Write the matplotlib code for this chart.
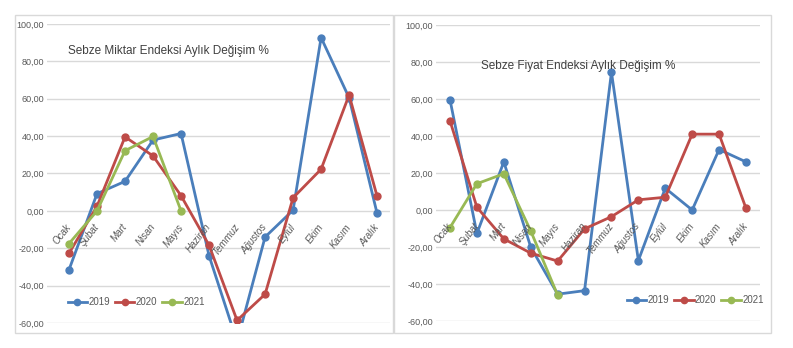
import matplotlib.pyplot as plt
from matplotlib.patches import Rectangle

plt.rcParams['font.family'] = ['Liberation Sans', 'DejaVu Sans']

months = ["Ocak", "Şubat", "Mart", "Nisan", "Mayıs", "Haziran", "Temmuz",
          "Ağustos", "Eylül", "Ekim", "Kasım", "Aralık"]
years = ["2019", "2020", "2021"]
yticks = [-60, -40, -20, 0, 20, 40, 60, 80, 100]

# Sebze Miktar Endeksi (left chart)
miktar_2019 = [-31.5, 9.2, 15.8, 37.9, 41.4, -24.0, -70.0, -14.0, 0.4, 92.7, 60.5, -1.4]
miktar_2020 = [-22.7, 2.5, 39.6, 29.4, 8.1, -18.4, -58.6, -44.6, 7.0, 22.3, 62.0, 7.8]
miktar_2021 = [-17.5, 0.0, 32.2, 39.8, 0.0]

# Sebze Fiyat Endeksi (right chart)
fiyat_2019 = [59.6, -12.7, 26.0, -20.0, -45.5, -43.6, 74.5, -27.3, 11.8, 0.0, 32.7, 26.0]
fiyat_2020 = [48.2, 1.5, -15.6, -23.3, -27.6, -10.2, -3.6, 5.5, 6.9, 41.0, 41.0, 0.9]
fiyat_2021 = [-9.5, 14.2, 19.6, -11.3, -46.0]

colors = ["#4A7EBB", "#BE4B48", "#98B954"]
W, H = 793, 348


def px_axes(fig, x0, x1, ytop, ybot):
    return fig.add_axes([x0 / W, 1 - ybot / H, (x1 - x0) / W, (ybot - ytop) / H])


def draw(ax, series, title, title_xy, legend_anchor, xlim):
    for vals, c, lab in zip(series, colors, years):
        ax.plot(range(len(vals)), vals, color=c, lw=2, marker='o', ms=5,
                label=lab, clip_on=True)
    ax.set_ylim(-60, 100)
    ax.set_xlim(*xlim)
    ax.set_yticks(yticks)
    ax.set_yticklabels([f"{v:.2f}".replace('.', ',') for v in yticks],
                       fontsize=6.5, color='#595959')
    ax.set_xticks([])
    ax.grid(axis='y', color='#D9D9D9', lw=1)
    ax.set_axisbelow(True)
    ax.tick_params(axis='y', length=0, pad=2)
    for s in ax.spines.values():
        s.set_visible(False)
    for i, m in enumerate(months):
        ax.annotate(m, (i, 0), xytext=(3, -8), textcoords='offset points',
                    rotation=52, ha='right', va='top', fontsize=7,
                    color='#595959', style='italic', annotation_clip=False)
    ax.text(title_xy[0], title_xy[1], title, transform=ax.transAxes,
            fontsize=8.5, color='#404040')
    ax.legend(loc='center', bbox_to_anchor=legend_anchor, ncol=3, frameon=False,
              fontsize=7, handlelength=2.0, columnspacing=0.5, handletextpad=0.15,
              labelcolor='#595959', markerscale=0.9)


fig = plt.figure(figsize=(W / 100, H / 100), dpi=100)
fig.patches.append(Rectangle((15 / W, 1 - 333 / H), 378 / W, 318 / H,
                             transform=fig.transFigure, fill=False,
                             ec='#D9D9D9', lw=1))
fig.patches.append(Rectangle((394 / W, 1 - 333 / H), 377 / W, 318 / H,
                             transform=fig.transFigure, fill=False,
                             ec='#D9D9D9', lw=1))

ax1 = px_axes(fig, 47, 390, 24, 323)
draw(ax1, [miktar_2019, miktar_2020, miktar_2021],
     "Sebze Miktar Endeksi Aylık Değişim %", (0.06, 0.9), (0.26, 0.07),
     (-0.786, 11.46))

ax2 = px_axes(fig, 436, 760, 25, 321)
draw(ax2, [fiyat_2019, fiyat_2020, fiyat_2021],
     "Sebze Fiyat Endeksi Aylık Değişim %", (0.14, 0.85), (0.80, 0.07),
     (-0.52, 11.52))

fig.savefig("out.png", dpi=100)
